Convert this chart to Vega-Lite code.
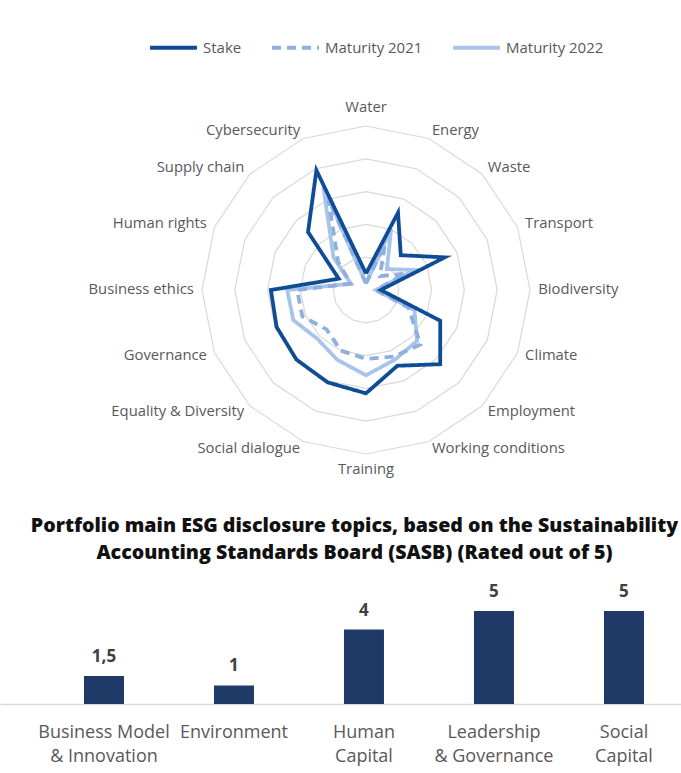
{
  "$schema": "https://vega.github.io/schema/vega-lite/v6.json",
  "background": "white",
  "padding": {"left": 0, "top": 0, "right": 0, "bottom": 8},
  "spacing": 11,
  "config": {
    "view": {"stroke": null},
    "locale": {"number": {"decimal": ",", "thousands": ".", "grouping": [3], "currency": ["", " €"]}}
  },
  "datasets": {
    "radar": [
      {"series": "Maturity 2022", "topic": "Water", "idx": 0, "value": 0.2},
      {"series": "Maturity 2022", "topic": "Energy", "idx": 1, "value": 2.0},
      {"series": "Maturity 2022", "topic": "Waste", "idx": 2, "value": 0.9},
      {"series": "Maturity 2022", "topic": "Transport", "idx": 3, "value": 1.6},
      {"series": "Maturity 2022", "topic": "Biodiversity", "idx": 4, "value": 0.3},
      {"series": "Maturity 2022", "topic": "Climate", "idx": 5, "value": 1.6},
      {"series": "Maturity 2022", "topic": "Employment", "idx": 6, "value": 2.2},
      {"series": "Maturity 2022", "topic": "Working conditions", "idx": 7, "value": 2.3},
      {"series": "Maturity 2022", "topic": "Training", "idx": 8, "value": 2.6},
      {"series": "Maturity 2022", "topic": "Social dialogue", "idx": 9, "value": 2.3},
      {"series": "Maturity 2022", "topic": "Equality & Diversity", "idx": 10, "value": 2.1},
      {"series": "Maturity 2022", "topic": "Governance", "idx": 11, "value": 2.4},
      {"series": "Maturity 2022", "topic": "Business ethics", "idx": 12, "value": 2.4},
      {"series": "Maturity 2022", "topic": "Human rights", "idx": 13, "value": 0.5},
      {"series": "Maturity 2022", "topic": "Supply chain", "idx": 14, "value": 1.4},
      {"series": "Maturity 2022", "topic": "Cybersecurity", "idx": 15, "value": 3.4},
      {"series": "Maturity 2022", "topic": "Water", "idx": 16, "value": 0.2},
      {"series": "Maturity 2021", "topic": "Water", "idx": 0, "value": 0.2},
      {"series": "Maturity 2021", "topic": "Energy", "idx": 1, "value": 1.5},
      {"series": "Maturity 2021", "topic": "Waste", "idx": 2, "value": 0.6},
      {"series": "Maturity 2021", "topic": "Transport", "idx": 3, "value": 1.3},
      {"series": "Maturity 2021", "topic": "Biodiversity", "idx": 4, "value": 0.3},
      {"series": "Maturity 2021", "topic": "Climate", "idx": 5, "value": 1.4},
      {"series": "Maturity 2021", "topic": "Employment", "idx": 6, "value": 2.35},
      {"series": "Maturity 2021", "topic": "Working conditions", "idx": 7, "value": 2.2},
      {"series": "Maturity 2021", "topic": "Training", "idx": 8, "value": 2.1},
      {"series": "Maturity 2021", "topic": "Social dialogue", "idx": 9, "value": 2.0},
      {"series": "Maturity 2021", "topic": "Equality & Diversity", "idx": 10, "value": 1.7},
      {"series": "Maturity 2021", "topic": "Governance", "idx": 11, "value": 2.1},
      {"series": "Maturity 2021", "topic": "Business ethics", "idx": 12, "value": 2.1},
      {"series": "Maturity 2021", "topic": "Human rights", "idx": 13, "value": 0.5},
      {"series": "Maturity 2021", "topic": "Supply chain", "idx": 14, "value": 1.2},
      {"series": "Maturity 2021", "topic": "Cybersecurity", "idx": 15, "value": 3.0},
      {"series": "Maturity 2021", "topic": "Water", "idx": 16, "value": 0.2},
      {"series": "Stake", "topic": "Water", "idx": 0, "value": 0.5},
      {"series": "Stake", "topic": "Energy", "idx": 1, "value": 2.55},
      {"series": "Stake", "topic": "Waste", "idx": 2, "value": 1.5},
      {"series": "Stake", "topic": "Transport", "idx": 3, "value": 2.6},
      {"series": "Stake", "topic": "Biodiversity", "idx": 4, "value": 0.45},
      {"series": "Stake", "topic": "Climate", "idx": 5, "value": 2.45},
      {"series": "Stake", "topic": "Employment", "idx": 6, "value": 3.2},
      {"series": "Stake", "topic": "Working conditions", "idx": 7, "value": 2.5},
      {"series": "Stake", "topic": "Training", "idx": 8, "value": 3.15},
      {"series": "Stake", "topic": "Social dialogue", "idx": 9, "value": 3.05},
      {"series": "Stake", "topic": "Equality & Diversity", "idx": 10, "value": 3.0},
      {"series": "Stake", "topic": "Governance", "idx": 11, "value": 2.95},
      {"series": "Stake", "topic": "Business ethics", "idx": 12, "value": 2.9},
      {"series": "Stake", "topic": "Human rights", "idx": 13, "value": 0.9},
      {"series": "Stake", "topic": "Supply chain", "idx": 14, "value": 2.5},
      {"series": "Stake", "topic": "Cybersecurity", "idx": 15, "value": 3.95},
      {"series": "Stake", "topic": "Water", "idx": 16, "value": 0.5}
    ],
    "topics": [
      {"topic": "Water", "idx": 0, "rings": [1, 2, 3, 4, 5]},
      {"topic": "Energy", "idx": 1, "rings": [1, 2, 3, 4, 5]},
      {"topic": "Waste", "idx": 2, "rings": [1, 2, 3, 4, 5]},
      {"topic": "Transport", "idx": 3, "rings": [1, 2, 3, 4, 5]},
      {"topic": "Biodiversity", "idx": 4, "rings": [1, 2, 3, 4, 5]},
      {"topic": "Climate", "idx": 5, "rings": [1, 2, 3, 4, 5]},
      {"topic": "Employment", "idx": 6, "rings": [1, 2, 3, 4, 5]},
      {"topic": "Working conditions", "idx": 7, "rings": [1, 2, 3, 4, 5]},
      {"topic": "Training", "idx": 8, "rings": [1, 2, 3, 4, 5]},
      {"topic": "Social dialogue", "idx": 9, "rings": [1, 2, 3, 4, 5]},
      {"topic": "Equality & Diversity", "idx": 10, "rings": [1, 2, 3, 4, 5]},
      {"topic": "Governance", "idx": 11, "rings": [1, 2, 3, 4, 5]},
      {"topic": "Business ethics", "idx": 12, "rings": [1, 2, 3, 4, 5]},
      {"topic": "Human rights", "idx": 13, "rings": [1, 2, 3, 4, 5]},
      {"topic": "Supply chain", "idx": 14, "rings": [1, 2, 3, 4, 5]},
      {"topic": "Cybersecurity", "idx": 15, "rings": [1, 2, 3, 4, 5]},
      {"topic": "Water", "idx": 16, "rings": [1, 2, 3, 4, 5]}
    ],
    "sasb": [
      {"topic": "Business Model & Innovation", "score": 1.5},
      {"topic": "Environment", "score": 1},
      {"topic": "Human Capital", "score": 4},
      {"topic": "Leadership & Governance", "score": 5},
      {"topic": "Social Capital", "score": 5}
    ]
  },
  "vconcat": [
    {
      "width": 681,
      "height": 505,
      "layer": [
        {
          "data": {"name": "topics"},
          "transform": [
            {"flatten": ["rings"], "as": ["ring"]},
            {"calculate": "datum.idx * PI / 8", "as": "ang"},
            {"calculate": "datum.ring * sin(datum.ang)", "as": "px"},
            {"calculate": "datum.ring * cos(datum.ang)", "as": "py"}
          ],
          "mark": {"type": "line", "stroke": "#d9d9d9", "strokeWidth": 1.2},
          "encoding": {
            "x": {"field": "px", "type": "quantitative", "scale": {"domain": [-11.159, 9.604], "nice": false, "zero": false}, "axis": null},
            "y": {"field": "py", "type": "quantitative", "scale": {"domain": [-6.555, 8.841], "nice": false, "zero": false}, "axis": null},
            "detail": {"field": "ring", "type": "nominal"},
            "order": {"field": "idx", "type": "quantitative"}
          }
        },
        {
          "data": {"name": "radar"},
          "transform": [
            {"calculate": "datum.idx * PI / 8", "as": "ang"},
            {"calculate": "datum.value * sin(datum.ang)", "as": "px"},
            {"calculate": "datum.value * cos(datum.ang)", "as": "py"}
          ],
          "mark": {"type": "line", "strokeWidth": 3.8, "strokeJoin": "miter"},
          "encoding": {
            "x": {"field": "px", "type": "quantitative", "scale": {"domain": [-11.159, 9.604], "nice": false, "zero": false}, "axis": null},
            "y": {"field": "py", "type": "quantitative", "scale": {"domain": [-6.555, 8.841], "nice": false, "zero": false}, "axis": null},
            "color": {
              "field": "series", "type": "nominal",
              "scale": {"domain": ["Stake", "Maturity 2021", "Maturity 2022"], "range": ["#0f4c96", "#8fb0de", "#a9c4ea"]},
              "legend": {"orient": "none", "legendX": 148, "legendY": 22, "direction": "horizontal", "title": null, "symbolType": "stroke", "symbolSize": 2200, "symbolStrokeWidth": 4, "labelFont": "Open Sans", "labelFontSize": 15, "labelColor": "#595959", "columnPadding": 22, "labelOffset": 4}
            },
            "strokeDash": {
              "field": "series", "type": "nominal",
              "scale": {"domain": ["Stake", "Maturity 2021", "Maturity 2022"], "range": [[1, 0], [9, 6], [1, 0]]},
              "legend": {"orient": "none", "legendX": 148, "legendY": 22, "direction": "horizontal", "title": null, "symbolType": "stroke", "symbolSize": 2200, "symbolStrokeWidth": 4, "labelFont": "Open Sans", "labelFontSize": 15, "labelColor": "#595959", "columnPadding": 22, "labelOffset": 4}
            },
            "order": {"field": "idx", "type": "quantitative"}
          }
        },
        {
          "data": {"name": "topics"},
          "transform": [
            {"filter": "datum.idx >= 1 && datum.idx <= 7"},
            {"calculate": "datum.idx * PI / 8", "as": "ang"},
            {"calculate": "5.25 * sin(datum.ang)", "as": "lx"},
            {"calculate": "5.25 * cos(datum.ang)", "as": "ly"}
          ],
          "mark": {"type": "text", "align": "left", "baseline": "middle", "font": "Open Sans", "fontSize": 14.8, "color": "#595959"},
          "encoding": {
            "x": {"field": "lx", "type": "quantitative", "scale": {"domain": [-11.159, 9.604], "nice": false, "zero": false}, "axis": null},
            "y": {"field": "ly", "type": "quantitative", "scale": {"domain": [-6.555, 8.841], "nice": false, "zero": false}, "axis": null},
            "text": {"field": "topic"}
          }
        },
        {
          "data": {"name": "topics"},
          "transform": [
            {"filter": "datum.idx >= 9 && datum.idx <= 15"},
            {"calculate": "datum.idx * PI / 8", "as": "ang"},
            {"calculate": "5.25 * sin(datum.ang)", "as": "lx"},
            {"calculate": "5.25 * cos(datum.ang)", "as": "ly"}
          ],
          "mark": {"type": "text", "align": "right", "baseline": "middle", "font": "Open Sans", "fontSize": 14.8, "color": "#595959"},
          "encoding": {
            "x": {"field": "lx", "type": "quantitative", "scale": {"domain": [-11.159, 9.604], "nice": false, "zero": false}, "axis": null},
            "y": {"field": "ly", "type": "quantitative", "scale": {"domain": [-6.555, 8.841], "nice": false, "zero": false}, "axis": null},
            "text": {"field": "topic"}
          }
        },
        {
          "data": {"name": "topics"},
          "transform": [
            {"filter": "datum.idx == 0"},
            {"calculate": "5.35", "as": "ly"},
            {"calculate": "0", "as": "lx"}
          ],
          "mark": {"type": "text", "align": "center", "baseline": "bottom", "font": "Open Sans", "fontSize": 14.8, "color": "#595959"},
          "encoding": {
            "x": {"field": "lx", "type": "quantitative", "scale": {"domain": [-11.159, 9.604], "nice": false, "zero": false}, "axis": null},
            "y": {"field": "ly", "type": "quantitative", "scale": {"domain": [-6.555, 8.841], "nice": false, "zero": false}, "axis": null},
            "text": {"field": "topic"}
          }
        },
        {
          "data": {"name": "topics"},
          "transform": [
            {"filter": "datum.idx == 8"},
            {"calculate": "-5.25", "as": "ly"},
            {"calculate": "0", "as": "lx"}
          ],
          "mark": {"type": "text", "align": "center", "baseline": "top", "font": "Open Sans", "fontSize": 14.8, "color": "#595959"},
          "encoding": {
            "x": {"field": "lx", "type": "quantitative", "scale": {"domain": [-11.159, 9.604], "nice": false, "zero": false}, "axis": null},
            "y": {"field": "ly", "type": "quantitative", "scale": {"domain": [-6.555, 8.841], "nice": false, "zero": false}, "axis": null},
            "text": {"field": "topic"}
          }
        }
      ]
    },
    {
      "width": 681,
      "height": 121,
      "title": {
        "text": ["Portfolio main ESG disclosure topics, based on the Sustainability", "Accounting Standards Board (SASB) (Rated out of 5)"],
        "font": "Open Sans",
        "fontSize": 19.6,
        "fontWeight": 800,
        "color": "#111111",
        "anchor": "middle",
        "lineHeight": 27,
        "offset": 19,
        "dx": 14
      },
      "data": {"name": "sasb"},
      "encoding": {
        "x": {
          "field": "topic", "type": "nominal", "sort": null,
          "scale": {"paddingInner": 0.6923, "paddingOuter": 0.4654, "align": 0.694},
          "axis": {
            "title": null, "ticks": false, "labelAngle": 0, "domainColor": "#d9d9d9", "domainWidth": 1.5,
            "labelFont": "Open Sans", "labelFontSize": 18, "labelColor": "#595959", "labelPadding": 19, "labelLineHeight": 24,
            "labelOverlap": false, "labelLimit": 0,
            "labelExpr": "datum.value == 'Business Model & Innovation' ? ['Business Model', '& Innovation'] : datum.value == 'Human Capital' ? ['Human', 'Capital'] : datum.value == 'Leadership & Governance' ? ['Leadership', '& Governance'] : datum.value == 'Social Capital' ? ['Social', 'Capital'] : datum.value"
          }
        }
      },
      "layer": [
        {
          "mark": {"type": "bar", "color": "#1f3a66"},
          "encoding": {
            "y": {"field": "score", "type": "quantitative", "scale": {"domain": [0, 6.5], "nice": false}, "axis": null}
          }
        },
        {
          "mark": {"type": "text", "baseline": "bottom", "dy": -10, "font": "Open Sans", "fontSize": 17, "fontWeight": "bold", "color": "#404040"},
          "encoding": {
            "y": {"field": "score", "type": "quantitative", "scale": {"domain": [0, 6.5], "nice": false}, "axis": null},
            "text": {"field": "score", "type": "quantitative", "format": "~g"}
          }
        }
      ]
    }
  ]
}
